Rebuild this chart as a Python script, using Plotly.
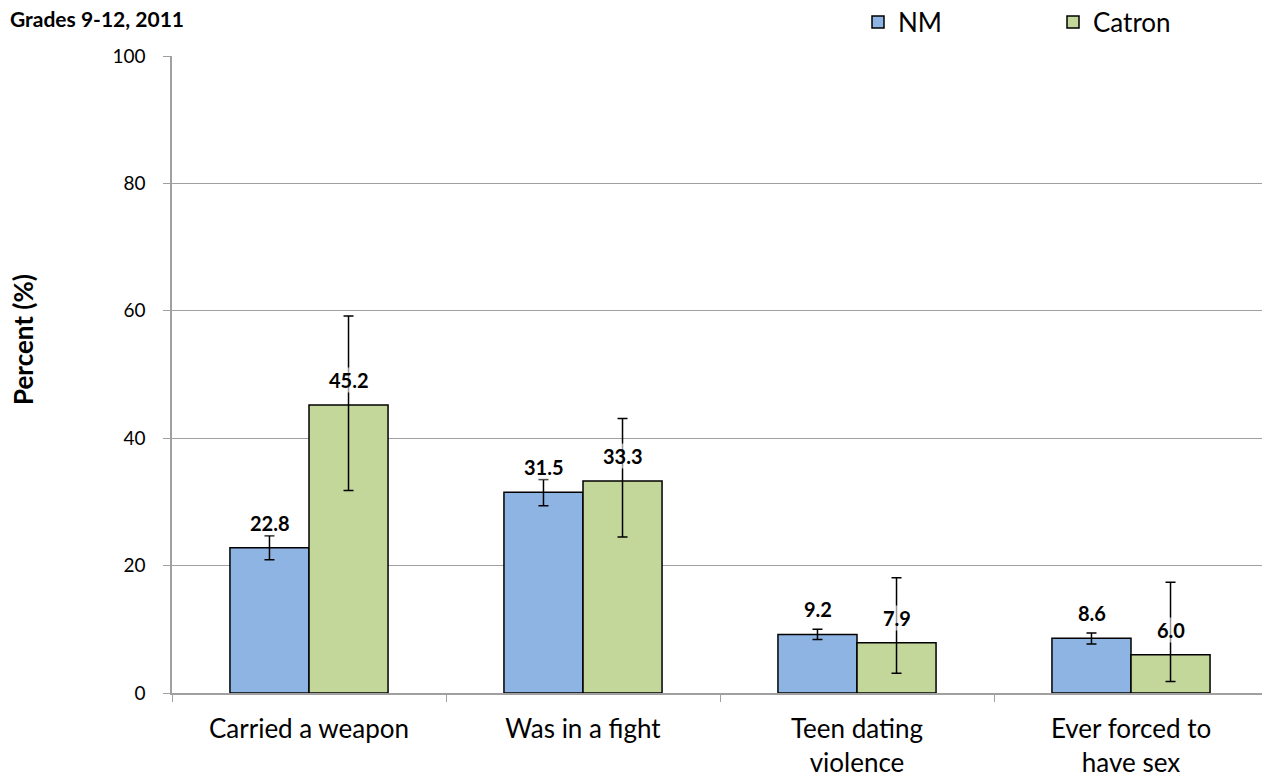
import plotly.graph_objects as go

categories = ["Carried a weapon", "Was in a fight", "Teen dating<br>violence", "Ever forced to<br>have sex"]
nm_values = [22.8, 31.5, 9.2, 8.6]
nm_lower = [20.9, 29.4, 8.4, 7.7]
nm_upper = [24.7, 33.5, 10.0, 9.4]
catron_values = [45.2, 33.3, 7.9, 6.0]
catron_lower = [31.8, 24.5, 3.1, 1.8]
catron_upper = [59.2, 43.1, 18.1, 17.4]
y_ticks = [0, 20, 40, 60, 80, 100]

FONT = "Lato, 'Open Sans', sans-serif"
OFF = 8  # page body margin
W, H = 1270 - OFF, 777 - OFF
# plot area in screen px: x 172..1268, y 56..693
ML, MT = 172 - OFF, 56 - OFF
MR = W - (1268 - OFF)
MB = H - (693 - OFF)
plot_w = W - ML - MR
plot_h = H - MT - MB


def px_x(sx):
    return (sx - OFF - ML) / plot_w


def px_y(sy):
    return 1 - (sy - OFF - MT) / plot_h


fig = go.Figure()


def add_series(name, vals, lo, hi, color):
    fig.add_trace(go.Bar(
        name=name, x=categories, y=vals,
        marker=dict(color=color, line=dict(color="black", width=1.5)),
        error_y=dict(type="data", symmetric=False,
                     array=[h - v for h, v in zip(hi, vals)],
                     arrayminus=[v - l for l, v in zip(lo, vals)],
                     color="black", thickness=1.5, width=5),
    ))


add_series("NM", nm_values, nm_lower, nm_upper, "#8eb4e3")
add_series("Catron", catron_values, catron_lower, catron_upper, "#c4d79b")

bar_px = 79
for vals, shift in ((nm_values, -bar_px / 2), (catron_values, bar_px / 2)):
    for c, v in zip(categories, vals):
        fig.add_annotation(x=c, y=v, text=f"<b>{v:.1f}</b>", showarrow=False,
                           xshift=shift, yshift=25, yanchor="middle",
                           font=dict(size=20, color="black", family=FONT),
                           bgcolor="rgba(255,255,255,0.6)", borderpad=0)

fig.add_annotation(xref="paper", yref="paper", x=px_x(186), y=px_y(19),
                   xanchor="right", yanchor="middle", showarrow=False,
                   text="<b>Grades 9-12, 2011</b>", font=dict(size=21, color="black", family=FONT))

fig.add_annotation(xref="paper", yref="paper", x=px_x(23), y=px_y(340),
                   xanchor="center", yanchor="middle", showarrow=False, textangle=-90,
                   text="<b>Percent (%)</b>", font=dict(size=26, color="black", family=FONT))

fig.update_layout(
    width=W, height=H, autosize=False,
    margin=dict(l=ML, r=MR, t=MT, b=MB, autoexpand=False),
    paper_bgcolor="white", plot_bgcolor="white",
    font=dict(family=FONT, color="black"),
    barmode="group", bargap=0.423, bargroupgap=0,
    showlegend=True,
    legend=dict(orientation="h", x=px_x(858), xanchor="left",
                y=px_y(22), yanchor="middle",
                font=dict(size=26, family=FONT), entrywidth=150, entrywidthmode="pixels",
                itemwidth=30, bgcolor="rgba(0,0,0,0)"),
    xaxis=dict(type="category", showline=True, linecolor="#a0a0a0", linewidth=1.5,
               ticks="outside", tickson="boundaries", ticklen=7, tickcolor="#a0a0a0",
               ticklabelstandoff=12,
               tickfont=dict(size=26, family=FONT), showgrid=False, automargin=False),
    yaxis=dict(range=[0, 100], tickvals=y_ticks, showline=True, linecolor="#a0a0a0", linewidth=1.5,
               ticks="outside", ticklen=7, tickcolor="#a0a0a0", ticklabelstandoff=14,
               gridcolor="#a0a0a0", gridwidth=1.2, automargin=False,
               tickfont=dict(size=19, family=FONT), zeroline=False),
)

fig.write_html("out.html")
